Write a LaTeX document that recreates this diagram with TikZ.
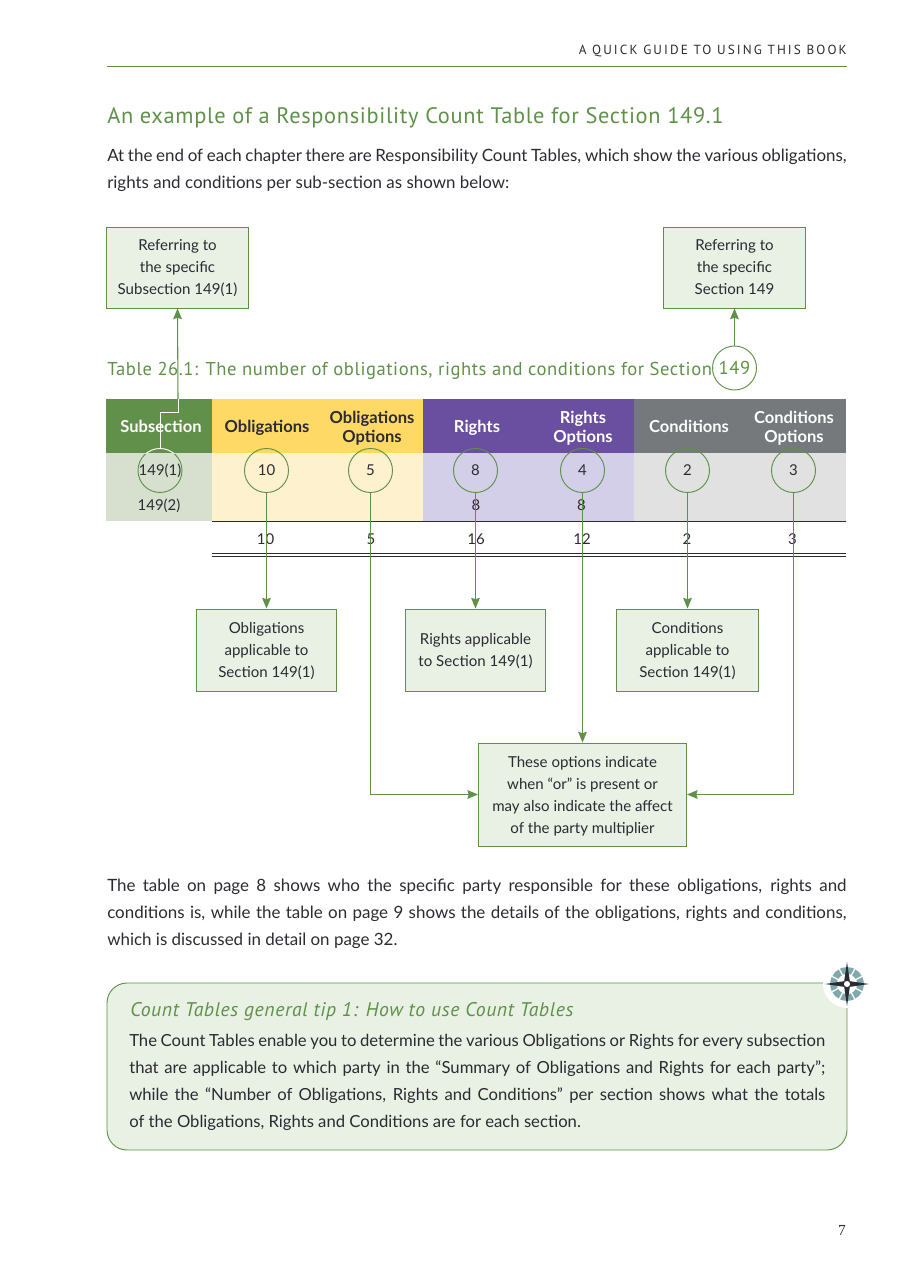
\documentclass[tikz,border=0pt]{standalone}
\usepackage{fontspec}
\setmainfont{Lato}
\newfontfamily\dinfont[LetterSpace=3]{PT Sans}
\newfontfamily\capsfont[LetterSpace=16]{PT Sans}
\newfontfamily\pagefont{Liberation Serif}
\usetikzlibrary{positioning,arrows.meta}
\definecolor{leaf}{HTML}{5F9148}
\definecolor{leaftint}{HTML}{E9F0E4}
\definecolor{subhead}{HTML}{61904A}
\definecolor{subbody}{HTML}{D7E0CF}
\definecolor{yellowhead}{HTML}{FFD966}
\definecolor{yellowbody}{HTML}{FDF1CE}
\definecolor{purplehead}{HTML}{6A4FA1}
\definecolor{purplebody}{HTML}{D3CFE8}
\definecolor{greyhead}{HTML}{75797B}
\definecolor{greybody}{HTML}{E0E1E0}
\definecolor{inkdark}{HTML}{2B2B33}
\definecolor{compassring}{HTML}{7FA9AC}
\tikzset{%
    note/.style={draw=leaf,fill=leaftint,line width=.7pt,align=center,inner sep=0pt,text depth=0pt,text=inkdark,font=\fontsize{11.3}{16.5}\selectfont},
    link/.style={draw=leaf,line width=.8pt,-{Stealth[length=8pt,width=6.5pt,inset=1pt]}},
    ring/.style={circle,draw=leaf,line width=.7pt,minimum size=33pt,inner sep=0pt},
    cell/.style={text=inkdark,text height=7.9pt,text depth=0pt,font=\fontsize{11.2}{14}\selectfont},
    headcell/.style={align=center,font=\fontsize{12.4}{14.2}\selectfont\bfseries},
    para/.style={anchor=north west,align=justify,inner sep=0pt,text=inkdark,font=\fontsize{12.7}{20.25}\selectfont},
}
\begin{document}
\begin{tikzpicture}[x=.75pt,y=-.75pt]
    \useasboundingbox (0,0) rectangle (897,1273);

    % page head
    \node[anchor=east,inner sep=0pt,text=inkdark,font=\capsfont\fontsize{9.9}{11}\selectfont] (runhead) at (847,51) {A QUICK GUIDE TO USING THIS BOOK};
    \draw[leaf,line width=.7pt] (107,66) -- (847,66);
    \node[anchor=west,inner sep=0pt,text=leaf,font=\dinfont\fontsize{16.8}{20}\selectfont] (title) at (107,117.5) {An example of a Responsibility Count Table for Section 149.1};
    \node[para,text width=554.5pt] (intro) at (107,149) {At the end of each chapter there are Responsibility Count Tables, which show the various \mbox{obligations,}\linebreak rights and conditions per sub-section as shown below:};

    % table colours
    \fill[subhead] (106,399) rectangle (212,453);
    \fill[yellowhead] (212,399) rectangle (423,453);
    \fill[purplehead] (423,399) rectangle (634,453);
    \fill[greyhead] (634,399) rectangle (846,453);
    \fill[subbody] (106,453) rectangle (212,521);
    \fill[yellowbody] (212,453) rectangle (423,521);
    \fill[purplebody] (423,453) rectangle (634,521);
    \fill[greybody] (634,453) rectangle (846,521);
    \draw[inkdark,line width=.6pt] (212,521) -- (846,521);
    \draw[inkdark,line width=.6pt] (212,553.5) -- (846,553.5);
    \draw[inkdark,line width=.6pt] (212,556.5) -- (846,556.5);

    \node[anchor=west,inner sep=0pt,text=leaf,font=\dinfont\fontsize{13.95}{17}\selectfont] (tabletitle) at (107,371) {Table 26.1: The number of obligations, rights and conditions for Section};

    % head cells
    \node[headcell,text=white] (hsub) at (161,426) {Subsection};
    \node[headcell,text=inkdark] (hobl) at (267,428) {Obligations};
    \node[headcell,text=inkdark] (hoblopt) at (372,428.5) {Obligations\\Options};
    \node[headcell,text=white] (hrig) at (477,428) {Rights};
    \node[headcell,text=white] (hrigopt) at (583,428.5) {Rights\\Options};
    \node[headcell,text=white] (hcon) at (689,426) {Conditions};
    \node[headcell,text=white] (hconopt) at (794,428.5) {Conditions\\Options};

    % circled values
    \foreach \name/\x/\val in {csub/160/149(1),cobl/266.5/10,coblopt/370.5/5,crig/475.5/8,crigopt/582.5/4,ccon/687.5/2,cconopt/793.5/3}
        \node[ring,cell] (\name) at (\x,470.5) {\val};
    \node[ring,text=leaf,font=\dinfont\fontsize{13.95}{17}\selectfont] (csec) at (734.5,368) {149};
    \begin{scope}
        \clip (106,399) rectangle (212,453);
        \draw[white,line width=.7pt] (csub.center) circle (22);
    \end{scope}

    % other values
    \node[cell] (row2sub) at (159,505) {149(2)};
    \node[cell] (row2rig) at (476,505) {8};
    \node[cell] (row2opt) at (581.5,505) {8};
    \foreach \name/\x/\val in {tobl/265.5/10,toblopt/371/5,trig/476/16,trigopt/582/12,tcon/687/2,tconopt/792.5/3}
        \node[cell] (\name) at (\x,539) {\val};

    % explanation boxes
    \node[note,minimum width=106pt,minimum height=60.75pt] (refsub) at (177.5,267.5) {Referring to\\the specific\\Subsection 149(1)};
    \node[note,minimum width=106.5pt,minimum height=60.75pt] (refsec) at (734.5,267.5) {Referring to\\the specific\\Section 149};
    \node[note,minimum width=105.5pt,minimum height=61.5pt] (boxobl) at (266.5,650) {Obligations\\applicable to\\Section 149(1)};
    \node[note,minimum width=105.5pt,minimum height=61.5pt] (boxrig) at (475.5,650) {Rights applicable\\to Section 149(1)};
    \node[note,minimum width=106.5pt,minimum height=61.5pt] (boxcon) at (687.5,650) {Conditions\\applicable to\\Section 149(1)};
    \node[note,minimum width=156pt,minimum height=77.25pt] (boxopt) at (582.5,794.5) {These options indicate\\when “or” is present or\\may also indicate the affect\\of the party multiplier};

    % connectors
    \coordinate (bend) at (178,412);
    \coordinate (headtop) at (178,399);
    \draw[white,line width=.7pt] (csub.north) |- (bend) -- (headtop);
    \draw[link] (headtop) -- (refsub.south);
    \draw[link] (csec.north) -- (refsec.south);
    \draw[link] (cobl.south) -- (boxobl.north);
    \draw[link] (crig.south) -- (boxrig.north);
    \draw[link] (ccon.south) -- (boxcon.north);
    \draw[link] (crigopt.south) -- (boxopt.north);
    \draw[link] (coblopt.south) |- (boxopt.west);
    \draw[link] (cconopt.south) |- (boxopt.east);

    % closing text
    \node[para,text width=554.5pt] (closing) at (107,879) {The table on page 8 shows who the specific party responsible for these obligations, rights and\linebreak conditions is, while the table on page 9 shows the details of the obligations, rights and conditions,\linebreak which is discussed in detail on page 32.};

    % tip box
    \draw[leaf,fill=leaftint,line width=.7pt,rounded corners=15pt] (107,983) rectangle (847,1150);
    \node[anchor=west,inner sep=0pt,text=leaf,font=\dinfont\itshape\fontsize{14.8}{17}\selectfont] (tiptitle) at (130,1012) {Count Tables general tip 1: How to use Count Tables};
    \node[para,text width=522pt,font=\fontsize{12.5}{20.25}\selectfont] (tiptext) at (129,1034) {The Count Tables enable you to determine the various Obligations or Rights for every \mbox{subsection}\linebreak that are applicable to which party in the “Summary of Obligations and Rights for each party”;\linebreak while the “Number of Obligations, Rights and Conditions” per section shows what the totals\linebreak of the Obligations, Rights and Conditions are for each section.};

    % compass
    \coordinate (compass) at (847,984);
    \fill[white] (compass) circle (24);
    \draw[compassring,line width=5pt] (compass) circle (13.5);
    \foreach \a in {45,135,225,315} {
        \draw[white,line width=1pt] (compass) -- ++(\a+18:18);
        \draw[white,line width=1pt] (compass) -- ++(\a-18:18);
    }
    \foreach \a in {0,90,180,270}
        \fill[inkdark] ([shift={(\a+45:4)}]compass) -- ([shift={(\a:22)}]compass) -- ([shift={(\a-45:4)}]compass) -- (compass) -- cycle;
    \fill[white] (compass) circle (3);

    % page number
    \node[inner sep=0pt,text=inkdark,font=\pagefont\fontsize{11.5}{14}\selectfont] (pageno) at (842,1230) {7};
\end{tikzpicture}
\end{document}
